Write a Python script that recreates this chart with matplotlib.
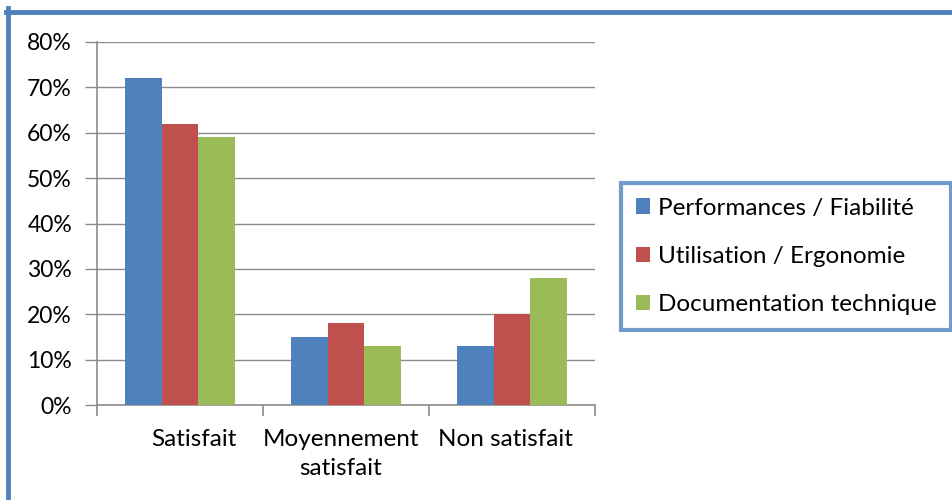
import numpy as np
import matplotlib.pyplot as plt
from matplotlib.patches import Patch
from matplotlib.lines import Line2D
from matplotlib.transforms import ScaledTranslation

plt.rcParams['font.family'] = ['Lato', 'DejaVu Sans']

# survey results (share of answers, %)
categories = ['Satisfait', 'Moyennement\nsatisfait', 'Non satisfait']
series_names = ['Performances / Fiabilité', 'Utilisation / Ergonomie', 'Documentation technique']
perf = [72, 15, 13]
usage = [62, 18, 20]
docs = [59, 13, 28]
yticks = [0, 10, 20, 30, 40, 50, 60, 70, 80]

colors = ['#4F81BD', '#C0504D', '#9BBB59']
frame_blue = '#4F81BD'
grid_gray = '#8C8C8C'
fs = 17.5

fig = plt.figure(figsize=(9.53, 5), dpi=100)
ax = fig.add_axes([97 / 953, 95 / 500, 498 / 953, 363 / 500])

x = np.arange(len(categories))
width = 0.22
for i, (vals, col) in enumerate(zip([perf, usage, docs], colors)):
    ax.bar(x + (i - 1) * width, vals, width, color=col, zorder=3)

ax.set_xlim(-0.5, len(categories) - 0.5)
ax.set_ylim(0, 80)
ax.set_yticks(yticks)
ax.set_yticklabels([f'{v}%' for v in yticks], fontsize=16.5)
ax.yaxis.grid(True, color=grid_gray, linewidth=1, zorder=0)
ax.tick_params(axis='y', length=9, color=grid_gray, width=1, pad=9)

# category boundaries as major ticks, names on minor ticks
ax.set_xticks(np.arange(len(categories) + 1) - 0.5)
ax.set_xticklabels([])
ax.set_xticks(x, minor=True)
ax.set_xticklabels(categories, minor=True, fontsize=fs, linespacing=1.5)
ax.tick_params(axis='x', which='major', length=8, color=grid_gray, width=1.2)
ax.tick_params(axis='x', which='minor', length=0, pad=17)

# nudge category names sideways a little (pixels)
for lab, dx in zip(ax.get_xticklabels(minor=True), [14, -5, -7]):
    lab.set_transform(lab.get_transform() + ScaledTranslation(dx / 100, 0, fig.dpi_scale_trans))

for side in ['top', 'right']:
    ax.spines[side].set_visible(False)
for side in ['left', 'bottom']:
    ax.spines[side].set_color(grid_gray)
    ax.spines[side].set_linewidth(1.2)

handles = [Patch(facecolor=c, edgecolor='none') for c in colors]
leg = fig.legend(handles, series_names, loc='upper left',
                 bbox_to_anchor=(621 / 953, 1 - 183 / 500), fontsize=fs,
                 handlelength=0.58, handleheight=0.58, handletextpad=0.33,
                 labelspacing=1.12, borderpad=0.6, fancybox=False,
                 frameon=True, borderaxespad=0)
leg.get_frame().set_edgecolor(frame_blue)
leg.get_frame().set_linewidth(3)

# outer chart frame (clipped on the right and bottom)
fig.add_artist(Line2D([8 / 953, 8 / 953], [0, 1 - 8 / 500], color=frame_blue,
                      linewidth=3.5, transform=fig.transFigure))
fig.add_artist(Line2D([6 / 953, 1], [1 - 11.5 / 500, 1 - 11.5 / 500], color=frame_blue,
                      linewidth=3.5, transform=fig.transFigure))

fig.savefig('out.png', dpi=100)
